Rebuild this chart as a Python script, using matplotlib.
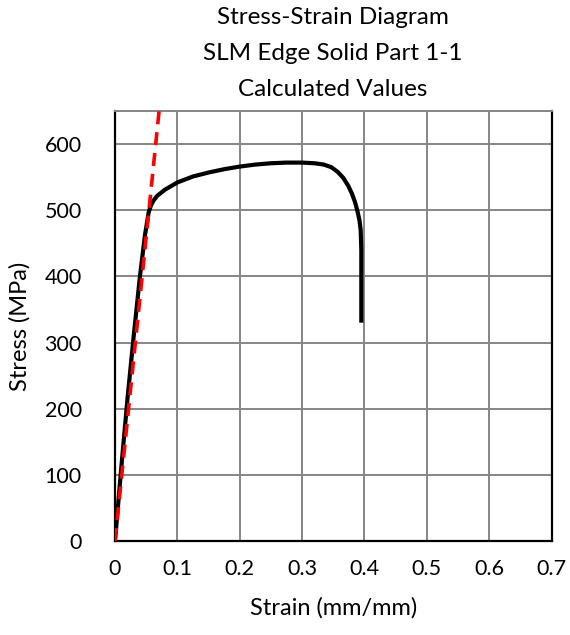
import matplotlib
matplotlib.use("Agg")
import matplotlib.pyplot as plt

# Measured stress-strain curve (strain in mm/mm, stress in MPa)
strain = [0.0, 0.010, 0.020, 0.030, 0.040, 0.048, 0.054, 0.058, 0.062, 0.068,
          0.080, 0.100, 0.125, 0.150, 0.175, 0.200, 0.225, 0.250, 0.275,
          0.300, 0.320, 0.335, 0.347, 0.357, 0.366, 0.374, 0.380, 0.385,
          0.389, 0.392, 0.394, 0.395, 0.395, 0.395]
stress = [0.0, 110, 215, 310, 400, 462, 497, 508, 515, 522,
          531, 542, 551, 557, 562, 566, 569, 571, 572,
          572, 571, 569, 565, 558, 549, 537, 525, 512,
          498, 485, 470, 440, 380, 330]

# Elastic-modulus fit line
fit_strain = [0.0, 0.0707]
fit_stress = [0.0, 650]

x_ticks = [0, 0.1, 0.2, 0.3, 0.4, 0.5, 0.6, 0.7]
x_labels = ["0", "0.1", "0.2", "0.3", "0.4", "0.5", "0.6", "0.7"]
y_ticks = [0, 100, 200, 300, 400, 500, 600]

plt.rcParams['font.family'] = ['Lato', 'DejaVu Sans']

fig = plt.figure(figsize=(5.7, 6.35), dpi=100)
ax = fig.add_axes([115 / 570, 1 - 541 / 635, (551.5 - 115) / 570, (541 - 111) / 635])

ax.plot(strain, stress, color="black", lw=3.0, solid_capstyle="butt", zorder=3)
ax.plot(fit_strain, fit_stress, color="#ff0000", lw=2.6, dashes=(3.6, 2.2),
        zorder=4, clip_on=True)

ax.set_xlim(0, 0.7)
ax.set_ylim(0, 650)
ax.set_xticks(x_ticks)
ax.set_xticklabels(x_labels)
ax.set_yticks(y_ticks + [650])
ax.set_yticklabels([str(v) for v in y_ticks] + [""])
ax.grid(True, color="#868686", lw=1.4)
ax.set_axisbelow(True)
ax.tick_params(length=0, labelsize=15.5, pad=13, colors="black")
ax.tick_params(axis="y", pad=24)

for side in ["left", "bottom", "right"]:
    ax.spines[side].set_color("black")
    ax.spines[side].set_linewidth(1.6)
ax.spines["top"].set_color("#868686")
ax.spines["top"].set_linewidth(1.4)

ax.set_xlabel("Strain (mm/mm)", fontsize=17, labelpad=13)
ax.set_ylabel("Stress (MPa)", fontsize=17, labelpad=10)

fig.text(333 / 570, 1 - 18 / 635, "Stress-Strain Diagram", ha="center", va="center", fontsize=17.5)
fig.text(333 / 570, 1 - 53 / 635, "SLM Edge Solid Part 1-1", ha="center", va="center", fontsize=17.5)
fig.text(333 / 570, 1 - 89 / 635, "Calculated Values", ha="center", va="center", fontsize=17.5)

fig.savefig("out.png", dpi=100)
